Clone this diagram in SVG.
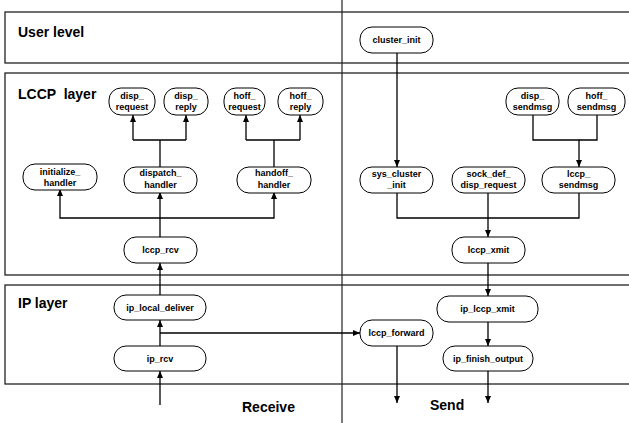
<svg xmlns="http://www.w3.org/2000/svg" width="629" height="423" viewBox="0 0 629 423">
<defs>
<marker id="ah" markerUnits="userSpaceOnUse" markerWidth="8" markerHeight="7" refX="7" refY="3" orient="auto">
<path d="M0,0 L7,3 L0,6 z" fill="#000"/>
</marker>
<style>
.layer{fill:#fff;stroke:#222;stroke-width:1.3}
.lt{font-family:"Liberation Sans",Arial,sans-serif;font-weight:bold;font-size:14px;fill:#000}
.node rect{fill:#fff;stroke:#000;stroke-width:1}
.node text{font-family:"Liberation Sans",Arial,sans-serif;font-weight:bold;font-size:9px;fill:#000;text-anchor:middle}
.c path{fill:none;stroke:#000;stroke-width:1.3}
.a{marker-end:url(#ah)}
</style>
</defs>
<rect width="629" height="423" fill="#fff"/>
<g id="layers">
<rect class="layer" x="5" y="12" width="640" height="51"/>
<rect class="layer" x="5" y="73" width="640" height="202"/>
<rect class="layer" x="5" y="285" width="640" height="99"/>
<line x1="342" y1="0" x2="342" y2="423" stroke="#222" stroke-width="1.2"/>
<text class="lt" x="18" y="37">User level</text>
<text class="lt" x="18" y="99" xml:space="preserve">LCCP  layer</text>
<text class="lt" x="18" y="308">IP layer</text>
<text class="lt" x="242" y="412">Receive</text>
<text class="lt" x="430" y="410">Send</text>
</g>
<g class="c" id="connectors">
<path class="a" d="M397,53 V167"/>
<path class="a" d="M533,115 V140 H579 V167"/>
<path d="M597,115 V140 H579"/>
<path d="M397,192 V218 H579 V192"/>
<path class="a" d="M488,192 V237"/>
<path class="a" d="M488,263 V296"/>
<path class="a" d="M488,322 V346"/>
<path class="a" d="M488,371 V403"/>
<path class="a" d="M397,346 V403"/>
<path class="a" d="M160,333 H360"/>
<path class="a" d="M160,405 V371"/>
<path class="a" d="M160,346 V320"/>
<path class="a" d="M160,295 V263"/>
<path class="a" d="M160,237 V192"/>
<path class="a" d="M160,218 H60 V189"/>
<path class="a" d="M160,218 H274 V192"/>
<path d="M160,167 V140"/>
<path d="M133,140 H186"/>
<path class="a" d="M133,140 V115"/>
<path class="a" d="M186,140 V115"/>
<path d="M274,167 V140"/>
<path d="M246,140 H300"/>
<path class="a" d="M246,140 V115"/>
<path class="a" d="M300,140 V115"/>
</g>
<g class="node" id="cluster_init"><rect x="360" y="27" width="73" height="26" rx="12"/><text x="396.5" y="43">cluster_init</text></g>
<g class="node" id="disp_request"><rect x="109" y="88" width="46" height="27" rx="12"/><text x="132" y="99">disp_</text><text x="132" y="110">request</text></g>
<g class="node" id="disp_reply"><rect x="164" y="88" width="44" height="27" rx="12"/><text x="186" y="99">disp_</text><text x="186" y="110">reply</text></g>
<g class="node" id="hoff_request"><rect x="224" y="88" width="41" height="27" rx="12"/><text x="244.5" y="99">hoff_</text><text x="244.5" y="110">request</text></g>
<g class="node" id="hoff_reply"><rect x="278" y="88" width="45" height="27" rx="12"/><text x="300.5" y="99">hoff_</text><text x="300.5" y="110">reply</text></g>
<g class="node" id="disp_sendmsg"><rect x="506" y="88" width="53" height="27" rx="12"/><text x="532.5" y="99">disp_</text><text x="532.5" y="110">sendmsg</text></g>
<g class="node" id="hoff_sendmsg"><rect x="568" y="88" width="57" height="27" rx="12"/><text x="596.5" y="99">hoff_</text><text x="596.5" y="110">sendmsg</text></g>
<g class="node" id="initialize_handler"><rect x="23" y="164" width="74" height="26" rx="12"/><text x="60" y="175">initialize_</text><text x="60" y="186">handler</text></g>
<g class="node" id="dispatch_handler"><rect x="124" y="167" width="73" height="26" rx="12"/><text x="160.5" y="176">dispatch_</text><text x="160.5" y="188">handler</text></g>
<g class="node" id="handoff_handler"><rect x="237" y="167" width="74" height="26" rx="12"/><text x="274" y="176">handoff_</text><text x="274" y="188">handler</text></g>
<g class="node" id="sys_cluster_init"><rect x="360" y="167" width="73" height="26" rx="12"/><text x="396.5" y="177">sys_cluster</text><text x="396.5" y="188">_init</text></g>
<g class="node" id="sock_def_disp_request"><rect x="452" y="167" width="73" height="26" rx="12"/><text x="488.5" y="177">sock_def_</text><text x="488.5" y="188">disp_request</text></g>
<g class="node" id="lccp_sendmsg"><rect x="542" y="167" width="73" height="26" rx="12"/><text x="578.5" y="177">lccp_</text><text x="578.5" y="188">sendmsg</text></g>
<g class="node" id="lccp_rcv"><rect x="124" y="237" width="73" height="26" rx="12"/><text x="160.5" y="253">lccp_rcv</text></g>
<g class="node" id="lccp_xmit"><rect x="452" y="237" width="73" height="26" rx="12"/><text x="488.5" y="253">lccp_xmit</text></g>
<g class="node" id="ip_local_deliver"><rect x="114" y="295" width="92" height="25" rx="12"/><text x="160" y="311">ip_local_deliver</text></g>
<g class="node" id="ip_rcv"><rect x="114" y="346" width="92" height="25" rx="12"/><text x="160" y="362">ip_rcv</text></g>
<g class="node" id="ip_lccp_xmit"><rect x="437" y="296" width="101" height="26" rx="12"/><text x="487.5" y="312">ip_lccp_xmit</text></g>
<g class="node" id="lccp_forward"><rect x="360" y="320" width="73" height="26" rx="12"/><text x="396.5" y="336">lccp_forward</text></g>
<g class="node" id="ip_finish_output"><rect x="443" y="346" width="90" height="25" rx="12"/><text x="488" y="362">ip_finish_output</text></g>
</svg>
